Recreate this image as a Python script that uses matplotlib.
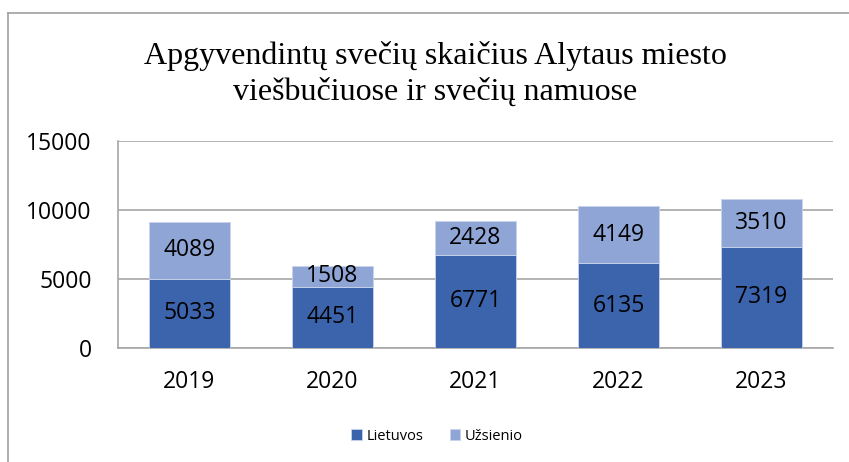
import matplotlib
matplotlib.use("Agg")
import matplotlib.pyplot as plt
from matplotlib.lines import Line2D
import numpy as np

years = ["2019", "2020", "2021", "2022", "2023"]
lietuvos = [5033, 4451, 6771, 6135, 7319]
uzsienio = [4089, 1508, 2428, 4149, 3510]
yticks = [0, 5000, 10000, 15000]
title = "Apgyvendintų svečių skaičius Alytaus miesto\nviešbučiuose ir svečių namuose"

dark = "#3B64AD"
light = "#8EA5D6"
grid = "#A6A6A6"
sans = ["Open Sans", "DejaVu Sans"]
fs = 16.5

fig = plt.figure(figsize=(8.49, 4.62), dpi=100)
W, H = 849, 462
ax = fig.add_axes([118 / W, 1 - 348 / H, (833 - 118) / W, (348 - 141) / H])

x = np.arange(len(years))
b1 = ax.bar(x, lietuvos, width=0.57, color=dark, edgecolor="#C9D3EC", linewidth=0.6, zorder=3)
b2 = ax.bar(x, uzsienio, width=0.57, bottom=lietuvos, color=light, edgecolor="#C9D3EC", linewidth=0.6, zorder=3)

for xi, a, b in zip(x, lietuvos, uzsienio):
    ax.text(xi, a / 2, str(a), ha="center", va="center", fontsize=fs, family=sans, color="black", zorder=4)
    ax.text(xi, a + b / 2, str(b), ha="center", va="center", fontsize=fs, family=sans, color="black", zorder=4)

ax.set_xlim(-0.5, len(years) - 0.5)
ax.set_ylim(0, 15000)
ax.set_yticks(yticks)
ax.set_yticklabels([str(v) for v in yticks], family=sans, fontsize=fs)
ax.set_xticks(x)
ax.set_xticklabels(years, family=sans, fontsize=fs)
ax.tick_params(axis="both", length=0)
ax.tick_params(axis="y", pad=19)
ax.tick_params(axis="x", pad=16)
ax.yaxis.grid(True, color=grid, linewidth=1.2, zorder=0)
ax.set_axisbelow(True)
for s in ["top", "right"]:
    ax.spines[s].set_visible(False)
for s in ["left", "bottom"]:
    ax.spines[s].set_color(grid)
    ax.spines[s].set_linewidth(1.2)

fig.text(435 / W, 1 - 74 / H, title, ha="center", va="center", fontsize=23,
         family=["Liberation Serif", "DejaVu Serif"], linespacing=1.3)

leg = fig.legend([b1, b2], ["Lietuvos", "Užsienio"], loc="center", bbox_to_anchor=(437 / W, 1 - 436 / H),
                 ncol=2, frameon=False, prop={"family": sans, "size": 10.5},
                 handlelength=0.75, handleheight=0.75, handletextpad=0.3, columnspacing=1.8)

# outer chart border (left and top visible)
fig.add_artist(Line2D([8 / W, 8 / W], [0, 1 - 13 / H], transform=fig.transFigure, color="#A0A0A0", linewidth=1.2))
fig.add_artist(Line2D([8 / W, 1], [1 - 13 / H, 1 - 13 / H], transform=fig.transFigure, color="#A0A0A0", linewidth=1.2))

fig.savefig("out.png", dpi=100)
